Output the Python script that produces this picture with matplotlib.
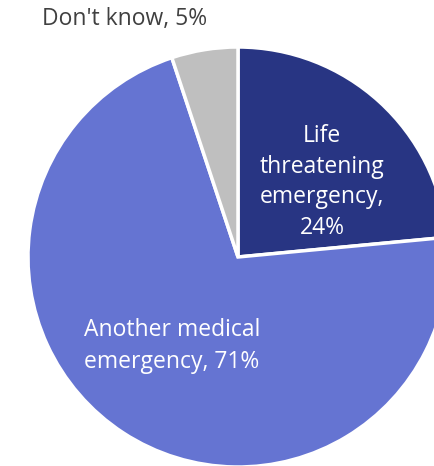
import matplotlib
matplotlib.use("Agg")
import matplotlib.pyplot as plt

categories = ["Life threatening emergency", "Another medical emergency", "Don't know"]
values = [23.5, 71.4, 5.1]
labels = ["Life\nthreatening\nemergency,\n24%", "Another medical\nemergency, 71%", "Don't know, 5%"]
colors = ["#283583", "#6574D2", "#BFBFBF"]

W, H = 435, 466
cx, cy, R = 238, 257, 210
fig = plt.figure(figsize=(W / 100, H / 100), dpi=100)
ax = fig.add_axes([0, 0, 1, 1])
wedges, _ = ax.pie(values, colors=colors, startangle=90, counterclock=False,
                   radius=R, center=(0, 0),
                   wedgeprops=dict(edgecolor="white", linewidth=2.5))
ax.set_xlim(-cx, W - cx)
ax.set_ylim(-(H - cy), cy)
ax.set_aspect("equal")
ax.axis("off")

font = ["Open Sans", "DejaVu Sans"]
ax.text(322 - cx, cy - 182, labels[0], ha="center", va="center", color="white",
        fontsize=16.5, family=font, linespacing=1.36)
ax.text(172 - cx, cy - 346, labels[1], ha="center", va="center", color="white",
        fontsize=16.5, family=font, linespacing=1.5)
ax.text(125 - cx, cy - 19, labels[2], ha="center", va="center", color="#404040",
        fontsize=16.5, family=font)

fig.savefig("out.png", dpi=100)
